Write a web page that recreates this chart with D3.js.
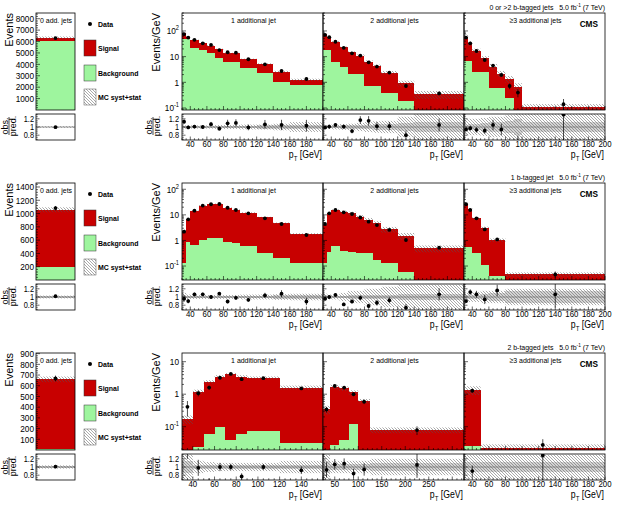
<!DOCTYPE html>
<html>
<head>
<meta charset="utf-8">
<script src="https://cdn.jsdelivr.net/npm/d3@7"></script>
<style>
  body { margin: 0; background: #fff; }
  text { font-family: "Liberation Sans", Arial, sans-serif; fill: #000; }
</style>
</head>
<body>
<div id="chart"></div>
<script>
const rowTitles = ["0 or >2 b-tagged jets", "1 b-tagged jet", "2 b-tagged jets"];
const lumiText = "5.0 fb";
const jetLabels = ["1 additional jet", "2 additional jets", "\u22653 additional jets"];
const legendLabels = ["Data", "Signal", "Background", "MC syst+stat"];

// 0 additional jets (events)
const zeroBkg = [6050, 190, 8];
const zeroTot = [6320, 1057, 660];
const zeroData = [6300, 1082, 668];
const zeroErr = [0.013, 0.03, 0.04];
const zeroRatio = [0.995, 1.02, 1.01];
const zeroUnc = [0.02, 0.035, 0.04];
const zeroStat = [0.01, 0.02, 0.02];
const zeroMax = [8500, 1460, 906];
const zeroTicks = [
    [1000, 2000, 3000, 4000, 5000, 6000, 7000, 8000],
    [200, 400, 600, 800, 1000, 1200, 1400],
    [100, 200, 300, 400, 500, 600, 700, 800, 900]
];

// axis ranges
const logDomains = [[0.0836, 500], [0.0284, 176], [0.0192, 18.5]];
const ratioDomain = [0.683, 1.317];
const xDomains = [
    [[30, 200], [30, 200], [30, 200]],
    [[30, 200], [30, 200], [30, 200]],
    [[30, 160], [25, 325], [30, 200]]
];
const ticksTo180 = [40, 60, 80, 100, 120, 140, 160, 180];
const ticksTo200 = [40, 60, 80, 100, 120, 140, 160, 180, 200];
const ticksTo140 = [40, 60, 80, 100, 120, 140];
const ticksBy50 = [50, 100, 150, 200, 250];

// row 1: 0 or >2 b-tagged jets (events/GeV)
const r1j1Edges = [30, 35, 40, 50, 60, 70, 80, 90, 100, 120, 140, 160, 200];
const r1j1Bkg = [47, 47, 21, 18, 13.5, 8.6, 6.4, 6.4, 3.5, 2.4, 1.05, 0.79];
const r1j1Tot = [81, 60, 45, 35, 27, 19.4, 13.5, 13.5, 7.9, 5.2, 2.6, 1.24];
const r1j1Data = [75, 55, 45, 33, 28.5, 18, 14.8, 14.3, 7.9, 5.0, 2.76, 1.35];
const r1j1Err = [0.05, 0.04, 0.04, 0.04, 0.05, 0.05, 0.08, 0.08, 0.07, 0.1, 0.12, 0.14];
const r1j1Ratio = [1.13, 0.99, 1.01, 1.0, 1.07, 0.96, 1.09, 1.1, 0.99, 1.065, 1.05, 1.03];
const r1j1Unc = [0.04, 0.04, 0.04, 0.04, 0.04, 0.05, 0.05, 0.05, 0.06, 0.06, 0.08, 0.12];
const r1j1Stat = [0.02, 0.02, 0.02, 0.02, 0.02, 0.03, 0.03, 0.03, 0.03, 0.04, 0.05, 0.06];

const r1j2Edges = [30, 35, 40, 50, 60, 70, 80, 90, 100, 120, 140, 200];
const r1j2Bkg = [18, 18, 6.4, 4.1, 2.2, 2.2, 0.72, 0.72, 0.37, 0.18, 0.02];
const r1j2Tot = [74, 57, 38, 23, 14.8, 11, 6.4, 4.3, 2.4, 0.92, 0.34];
const r1j2Data = [70, 57, 38, 22, 13.5, 11, 6.0, 4.1, 2.4, 0.72, 0.37];
const r1j2Err = [0.05, 0.05, 0.04, 0.05, 0.06, 0.08, 0.1, 0.1, 0.1, 0.14, 0.15];
const r1j2Ratio = [0.99, 1.01, 1.05, 1.01, 0.9, 1.17, 1.15, 1.02, 1.02, 0.8, 1.05];
const r1j2Unc = [0.05, 0.05, 0.06, 0.07, 0.08, 0.1, 0.12, 0.14, 0.15, 0.25, 0.35];
const r1j2Stat = [0.03, 0.03, 0.03, 0.04, 0.04, 0.05, 0.06, 0.07, 0.07, 0.1, 0.12];

const r1j3Edges = [30, 35, 40, 50, 60, 70, 80, 90, 100, 200];
const r1j3Bkg = [6.8, 6.8, 2.6, 2.6, 0.58, 0.58, 0.24, 0.01, 0.01];
const r1j3Tot = [60, 33, 17, 8.6, 4.1, 2.2, 1.35, 0.68, 0.105];
const r1j3Data = [55, 33, 16.6, 7.4, 4.5, 1.94, 0.72, 0.40, 0.14];
const r1j3Err = [0.05, 0.06, 0.07, 0.08, 0.12, 0.15, 0.25, 0.35, 0.6];
const r1j3Ratio = [0.94, 0.97, 0.93, 0.91, 1.05, 0.94, 0.53, 0.59, 1.3];
const r1j3Unc = [0.2, 0.2, 0.2, 0.22, 0.25, 0.25, 0.3, 0.35, 0.35];
const r1j3Stat = [0.06, 0.07, 0.08, 0.1, 0.12, 0.12, 0.15, 0.2, 0.12];

// row 2: 1 b-tagged jet
const r2j1Edges = [30, 35, 40, 50, 60, 70, 80, 90, 100, 120, 140, 160, 200];
const r2j1Bkg = [0.128, 0.89, 0.66, 1.04, 1.2, 1.2, 0.89, 0.78, 0.6, 0.33, 0.2, 0.128];
const r2j1Tot = [2.4, 6.7, 14.6, 23, 26.6, 26.6, 19, 15.5, 12, 7.9, 4.7, 1.78];
const r2j1Data = [2.2, 6.7, 14.6, 23, 26, 26.6, 19, 15.5, 11.5, 7.3, 4.4, 1.63];
const r2j1Err = [0.08, 0.06, 0.04, 0.04, 0.04, 0.04, 0.05, 0.05, 0.05, 0.06, 0.08, 0.1];
const r2j1Ratio = [0.96, 0.9, 1.065, 1.065, 1.0, 1.08, 0.89, 0.98, 0.93, 1.04, 1.08, 0.89];
const r2j1Unc = [0.1, 0.06, 0.05, 0.05, 0.05, 0.05, 0.05, 0.05, 0.06, 0.06, 0.07, 0.08];
const r2j1Stat = [0.05, 0.03, 0.02, 0.02, 0.02, 0.02, 0.02, 0.02, 0.03, 0.03, 0.04, 0.05];

const r2j2Edges = [30, 35, 40, 50, 60, 70, 80, 90, 100, 120, 140, 200];
const r2j2Bkg = [0.128, 0.36, 0.6, 0.4, 0.36, 0.33, 0.33, 0.17, 0.128, 0.06, 0.01];
const r2j2Tot = [4.0, 11.5, 15.5, 13.3, 11.5, 8.5, 6.3, 4.7, 2.7, 1.5, 0.49];
const r2j2Data = [4.4, 11.5, 15.5, 12.6, 10.8, 7.9, 5.4, 4.0, 2.57, 1.04, 0.52];
const r2j2Err = [0.06, 0.04, 0.04, 0.05, 0.05, 0.06, 0.07, 0.08, 0.08, 0.12, 0.14];
const r2j2Ratio = [0.96, 1.0, 1.05, 0.82, 0.89, 0.98, 0.78, 0.86, 0.92, 0.74, 1.065];
const r2j2Unc = [0.08, 0.06, 0.06, 0.1, 0.15, 0.15, 0.2, 0.2, 0.25, 0.3, 0.3];
const r2j2Stat = [0.04, 0.03, 0.03, 0.03, 0.04, 0.04, 0.05, 0.05, 0.06, 0.07, 0.08];

const r2j3Edges = [30, 35, 40, 50, 60, 80, 200];
const r2j3Bkg = [0.57, 0.57, 0.32, 0.11, 0.04, 0.001];
const r2j3Tot = [26, 16.5, 7.3, 3.0, 1.04, 0.047];
const r2j3Data = [26, 15.5, 7.3, 2.7, 1.1, 0.047];
const r2j3Err = [0.05, 0.06, 0.08, 0.12, 0.12, 0.3];
const r2j3Ratio = [0.9, 1.12, 1.065, 0.94, 1.16, 1.065];
const r2j3Unc = [0.1, 0.12, 0.12, 0.15, 0.15, 0.2];
const r2j3Stat = [0.05, 0.06, 0.06, 0.08, 0.1, 0.15];

// row 3: 2 b-tagged jets
const r3j1Edges = [30, 40, 50, 60, 70, 80, 90, 120, 160];
const r3j1Bkg = [0.005, 0.023, 0.059, 0.1, 0.039, 0.059, 0.076, 0.032];
const r3j1Tot = [0.17, 1.2, 2.4, 3.5, 4.1, 3.5, 3.2, 1.6];
const r3j1Data = [0.41, 1.07, 1.6, 3.2, 4.2, 2.9, 3.1, 1.5];
const r3j1Err = [0.5, 0.2, 0.15, 0.1, 0.08, 0.1, 0.07, 0.1];
const r3j1Ratio = [2.4, 0.98, 0.63, 1.0, 1.0, 0.77, 1.0, 0.92];
const r3j1Unc = [0.3, 0.15, 0.12, 0.1, 0.1, 0.1, 0.1, 0.15];
const r3j1Stat = [0.15, 0.06, 0.05, 0.04, 0.04, 0.04, 0.04, 0.06];

const r3j2Edges = [25, 40, 60, 80, 100, 125, 325];
const r3j2Bkg = [0.003, 0.027, 0.039, 0.117, 0.003, 0.003];
const r3j2Tot = [0.34, 1.7, 1.5, 1.14, 0.62, 0.079];
const r3j2Data = [0.34, 1.8, 1.6, 1.0, 0.59, 0.079];
const r3j2Err = [0.2, 0.12, 0.12, 0.14, 0.16, 0.3];
const r3j2Ratio = [0.93, 1.065, 1.08, 0.84, 0.94, 1.05];
const r3j2Unc = [0.3, 0.15, 0.15, 0.15, 0.15, 0.2];
const r3j2Stat = [0.15, 0.08, 0.08, 0.08, 0.08, 0.1];

const r3j3Edges = [30, 50, 200];
const r3j3Bkg = [0.025, 0.001];
const r3j3Tot = [1.35, 0.022];
const r3j3Data = [1.28, 0.0275];
const r3j3Err = [0.15, 0.5];
const r3j3Ratio = [0.9, 1.28];
const r3j3Unc = [0.3, 0.3];
const r3j3Stat = [0.12, 0.12];

const rightPanels = [
    [
        { edges: r1j1Edges, bkg: r1j1Bkg, tot: r1j1Tot, data: r1j1Data, err: r1j1Err, ratio: r1j1Ratio, unc: r1j1Unc, stat: r1j1Stat, ticks: ticksTo180, minor: 5 },
        { edges: r1j2Edges, bkg: r1j2Bkg, tot: r1j2Tot, data: r1j2Data, err: r1j2Err, ratio: r1j2Ratio, unc: r1j2Unc, stat: r1j2Stat, ticks: ticksTo180, minor: 5 },
        { edges: r1j3Edges, bkg: r1j3Bkg, tot: r1j3Tot, data: r1j3Data, err: r1j3Err, ratio: r1j3Ratio, unc: r1j3Unc, stat: r1j3Stat, ticks: ticksTo200, minor: 5 }
    ],
    [
        { edges: r2j1Edges, bkg: r2j1Bkg, tot: r2j1Tot, data: r2j1Data, err: r2j1Err, ratio: r2j1Ratio, unc: r2j1Unc, stat: r2j1Stat, ticks: ticksTo180, minor: 5 },
        { edges: r2j2Edges, bkg: r2j2Bkg, tot: r2j2Tot, data: r2j2Data, err: r2j2Err, ratio: r2j2Ratio, unc: r2j2Unc, stat: r2j2Stat, ticks: ticksTo180, minor: 5 },
        { edges: r2j3Edges, bkg: r2j3Bkg, tot: r2j3Tot, data: r2j3Data, err: r2j3Err, ratio: r2j3Ratio, unc: r2j3Unc, stat: r2j3Stat, ticks: ticksTo200, minor: 5 }
    ],
    [
        { edges: r3j1Edges, bkg: r3j1Bkg, tot: r3j1Tot, data: r3j1Data, err: r3j1Err, ratio: r3j1Ratio, unc: r3j1Unc, stat: r3j1Stat, ticks: ticksTo140, minor: 5 },
        { edges: r3j2Edges, bkg: r3j2Bkg, tot: r3j2Tot, data: r3j2Data, err: r3j2Err, ratio: r3j2Ratio, unc: r3j2Unc, stat: r3j2Stat, ticks: ticksBy50, minor: 10 },
        { edges: r3j3Edges, bkg: r3j3Bkg, tot: r3j3Tot, data: r3j3Data, err: r3j3Err, ratio: r3j3Ratio, unc: r3j3Unc, stat: r3j3Stat, ticks: ticksTo200, minor: 5 }
    ]
];

const RED = "#c80000";
const GREEN = "#9ef59e";
const PW = 141, MH = 97, RH = 26, RGAP = 101;
const panelX = [182, 323, 464];
const leftX = [36, 75];
const sx = 0.87;
const rowTop = r => 13 + 170 * r;

const svg = d3.select("#chart")
    .append("svg")
    .attr("width", 618)
    .attr("height", 506);

const defs = svg.append("defs");
defs.append("pattern")
    .attr("id", "hatch")
    .attr("patternUnits", "userSpaceOnUse")
    .attr("width", 3)
    .attr("height", 3)
    .append("path")
    .attr("d", "M-1,-1 L4,4 M-1,2 L1,4 M2,-1 L4,1")
    .attr("stroke", "#555")
    .attr("stroke-width", 0.5);

function label(g, x, y, s, size, anchor = "start", weight = "normal") {
    return g.append("text")
        .attr("transform", `translate(${x},${y}) scale(${sx},1)`)
        .attr("text-anchor", anchor)
        .style("font-size", size + "px")
        .style("font-weight", weight)
        .text(s);
}

function vlabel(x, y, s, size) {
    svg.append("text")
        .attr("transform", `translate(${x},${y}) rotate(-90)`)
        .attr("text-anchor", "end")
        .style("font-size", size + "px")
        .text(s);
}

function fracLabel(x, y, size) {
    const g = svg.append("g")
        .attr("transform", `translate(${x},${y}) rotate(-90)`)
        .style("font-size", size + "px");
    g.append("text").attr("y", -1.5).attr("text-anchor", "middle").text("obs.");
    g.append("line").attr("x1", -9).attr("x2", 9).attr("stroke", "black").attr("stroke-width", 0.7);
    g.append("text").attr("y", size * 0.82).attr("text-anchor", "middle").text("pred.");
}

function bins(p) {
    return p.tot.map((t, k) => ({
        a: p.edges[k], b: p.edges[k + 1], c: (p.edges[k] + p.edges[k + 1]) / 2,
        bkg: p.bkg[k], tot: t, data: p.data[k], err: p.err[k],
        ratio: p.ratio[k], unc: p.unc[k], stat: p.stat[k]
    }));
}

function mainPanel(id, x0, w, top, xs, ys, p) {
    const yb = top + MH;
    const yv = v => Math.min(ys(Math.max(v, 1e-6)), yb + 2);
    defs.append("clipPath").attr("id", id)
        .append("rect").attr("x", x0).attr("y", top).attr("width", w).attr("height", MH);
    const g = svg.append("g").attr("clip-path", `url(#${id})`);
    const b = bins(p);

    g.selectAll(".bkg").data(b).join("rect").attr("class", "bkg")
        .attr("x", d => xs(d.a)).attr("width", d => xs(d.b) - xs(d.a))
        .attr("y", d => yv(d.bkg)).attr("height", d => yb + 2 - yv(d.bkg))
        .attr("fill", GREEN).attr("shape-rendering", "crispEdges");
    g.selectAll(".sig").data(b).join("rect").attr("class", "sig")
        .attr("x", d => xs(d.a)).attr("width", d => xs(d.b) - xs(d.a))
        .attr("y", d => yv(d.tot)).attr("height", d => Math.max(0, yv(d.bkg) - yv(d.tot)))
        .attr("fill", RED).attr("shape-rendering", "crispEdges");
    g.selectAll(".unc").data(b).join("rect").attr("class", "unc")
        .attr("x", d => xs(d.a)).attr("width", d => xs(d.b) - xs(d.a))
        .attr("y", d => yv(d.tot * (1 + d.unc)))
        .attr("height", d => yv(d.tot * (1 - d.unc)) - yv(d.tot * (1 + d.unc)))
        .attr("fill", "url(#hatch)");

    g.selectAll(".ebar").data(b).join("line").attr("class", "ebar")
        .attr("x1", d => xs(d.c)).attr("x2", d => xs(d.c))
        .attr("y1", d => yv(d.data * (1 + d.err))).attr("y2", d => yv(d.data * (1 - d.err)))
        .attr("stroke", "black").attr("stroke-width", 0.7);
    g.selectAll(".dot").data(b).join("circle").attr("class", "dot")
        .attr("cx", d => xs(d.c)).attr("cy", d => yv(d.data)).attr("r", 1.9)
        .attr("fill", "black");

    svg.append("rect").attr("x", x0).attr("y", top).attr("width", w).attr("height", MH)
        .attr("fill", "none").attr("stroke", "black").attr("stroke-width", 0.8);
}

function ratioPanel(id, x0, w, top, xs, rs, p) {
    defs.append("clipPath").attr("id", id)
        .append("rect").attr("x", x0).attr("y", top).attr("width", w).attr("height", RH);
    const g = svg.append("g").attr("clip-path", `url(#${id})`);
    const b = bins(p);

    g.selectAll(".stat").data(b).join("rect").attr("class", "stat")
        .attr("x", d => xs(d.a)).attr("width", d => xs(d.b) - xs(d.a))
        .attr("y", d => rs(1 + d.stat)).attr("height", d => rs(1 - d.stat) - rs(1 + d.stat))
        .attr("fill", "#d4d4d4").attr("shape-rendering", "crispEdges");
    g.selectAll(".unc").data(b).join("rect").attr("class", "unc")
        .attr("x", d => xs(d.a)).attr("width", d => xs(d.b) - xs(d.a))
        .attr("y", d => rs(1 + d.unc)).attr("height", d => rs(1 - d.unc) - rs(1 + d.unc))
        .attr("fill", "url(#hatch)");
    g.append("line").attr("x1", x0).attr("x2", x0 + w).attr("y1", rs(1)).attr("y2", rs(1))
        .attr("stroke", "#777").attr("stroke-width", 0.8);

    g.selectAll(".ebar").data(b).join("line").attr("class", "ebar")
        .attr("x1", d => xs(d.c)).attr("x2", d => xs(d.c))
        .attr("y1", d => rs(d.ratio * (1 + d.err))).attr("y2", d => rs(d.ratio * (1 - d.err)))
        .attr("stroke", "black").attr("stroke-width", 0.7);
    g.selectAll(".dot").data(b).join("circle").attr("class", "dot")
        .attr("cx", d => xs(d.c)).attr("cy", d => rs(d.ratio)).attr("r", 1.9)
        .attr("fill", "black");

    svg.append("rect").attr("x", x0).attr("y", top).attr("width", w).attr("height", RH)
        .attr("fill", "none").attr("stroke", "black").attr("stroke-width", 0.8);
}

function tick(x1, y1, x2, y2) {
    svg.append("line").attr("x1", x1).attr("y1", y1).attr("x2", x2).attr("y2", y2)
        .attr("stroke", "black").attr("stroke-width", 0.6);
}

function logTicks(x0, ys, withLabels) {
    const [lo, hi] = ys.domain();
    for (let e = Math.floor(Math.log10(lo)); e <= Math.ceil(Math.log10(hi)); e++) {
        for (let m = 1; m < 10; m++) {
            const v = m * Math.pow(10, e);
            if (v < lo || v > hi) continue;
            tick(x0, ys(v), x0 + (m === 1 ? 4 : 2), ys(v));
            if (m === 1 && withLabels) {
                const t = svg.append("text")
                    .attr("transform", `translate(${x0 - 3},${ys(v) + 3.3}) scale(${sx},1)`)
                    .attr("text-anchor", "end")
                    .style("font-size", "9.5px");
                if (e === 0) t.text("1");
                else if (e === 1) t.text("10");
                else {
                    t.append("tspan").text("10");
                    t.append("tspan").attr("dy", -4).style("font-size", "6.5px").text(e === -1 ? "-1" : e);
                }
            }
        }
    }
}

function ratioTicks(x0, rs, withLabels, lx) {
    d3.range(0.7, 1.31, 0.05).forEach(v => {
        const major = Math.abs(v - 0.8) < 1e-6 || Math.abs(v - 1) < 1e-6 || Math.abs(v - 1.2) < 1e-6;
        tick(x0, rs(v), x0 + (major ? 3.5 : 1.8), rs(v));
    });
    if (withLabels) {
        [[1.2, "1.2"], [1, "1"], [0.8, "0.8"]].forEach(([v, s]) => {
            label(svg, lx, rs(v) + 3, s, 8.5, "end");
        });
    }
}

function xTicks(xs, yb, len, p) {
    const [a, b] = xs.domain();
    for (let v = Math.ceil(a / p.minor) * p.minor; v <= b; v += p.minor) {
        const major = p.ticks.includes(v) || v % (p.minor === 10 ? 50 : 20) === 0;
        tick(xs(v), yb, xs(v), yb - (major ? len : len / 2));
    }
}

rowTitles.forEach((title, r) => {
    const T = rowTop(r);
    const ys = d3.scaleLog().domain(logDomains[r]).range([T + MH, T]);
    const rs = d3.scaleLinear().domain(ratioDomain).range([T + RGAP + RH, T + RGAP]);

    // 0 additional jets
    const zs = d3.scaleLinear().domain([0, zeroMax[r]]).range([T + MH, T]);
    const zx = d3.scaleLinear().domain([0, 1]).range(leftX);
    const zp = {
        edges: [0, 1], bkg: [zeroBkg[r]], tot: [zeroTot[r]], data: [zeroData[r]], err: [zeroErr[r]],
        ratio: [zeroRatio[r]], unc: [zeroUnc[r]], stat: [zeroStat[r]]
    };
    mainPanel(`z${r}`, leftX[0], leftX[1] - leftX[0], T, zx, zs, zp);
    ratioPanel(`zr${r}`, leftX[0], leftX[1] - leftX[0], T + RGAP, zx, rs, zp);
    const step = zeroTicks[r][1] - zeroTicks[r][0];
    d3.range(step / 5, zeroMax[r], step / 5).forEach(v => {
        const major = zeroTicks[r].some(t => Math.abs(t - v) < 1e-6);
        tick(leftX[0], zs(v), leftX[0] + (major ? 4 : 2), zs(v));
    });
    zeroTicks[r].forEach(v => label(svg, leftX[0] - 2, zs(v) + 3.3, v, 9.5, "end"));
    ratioTicks(leftX[0], rs, true, leftX[0] - 2);
    label(svg, 56, T + 10, "0 add. jets", 8, "middle");
    vlabel(13, T, "Events", 11);
    fracLabel(9, T + 113, 9);

    // legend
    svg.append("circle").attr("cx", 90).attr("cy", T + 11).attr("r", 2).attr("fill", "black");
    svg.append("rect").attr("x", 84).attr("y", T + 27).attr("width", 12).attr("height", 16)
        .attr("fill", RED).attr("stroke", "#333").attr("stroke-width", 0.5);
    svg.append("rect").attr("x", 84).attr("y", T + 52).attr("width", 12).attr("height", 16)
        .attr("fill", GREEN).attr("stroke", "#333").attr("stroke-width", 0.5);
    svg.append("rect").attr("x", 84).attr("y", T + 76).attr("width", 12).attr("height", 16)
        .attr("fill", "url(#hatch)").attr("stroke", "#555").attr("stroke-width", 0.5);
    [14, 38, 63, 87].forEach((dy, k) => label(svg, 98, T + dy, legendLabels[k], 8, "start", "bold"));

    // jet multiplicity panels
    panelX.forEach((x0, j) => {
        const p = rightPanels[r][j];
        const xs = d3.scaleLinear().domain(xDomains[r][j]).range([x0, x0 + PW]);
        mainPanel(`m${r}${j}`, x0, PW, T, xs, ys, p);
        ratioPanel(`r${r}${j}`, x0, PW, T + RGAP, xs, rs, p);
        logTicks(x0, ys, j === 0);
        ratioTicks(x0, rs, j === 0, x0 - 3);
        xTicks(xs, T + MH, 4, p);
        xTicks(xs, T + RGAP + RH, 3.5, p);
        p.ticks.forEach(v => label(svg, xs(v), T + 134, v, 9, "middle"));

        const pt = svg.append("text")
            .attr("transform", `translate(${x0 + PW - 1},${T + 145}) scale(${sx},1)`)
            .attr("text-anchor", "end")
            .style("font-size", "10px");
        pt.append("tspan").text("p");
        pt.append("tspan").attr("dy", 2.5).style("font-size", "7px").text("T");
        pt.append("tspan").attr("dy", -2.5).text(" [GeV]");

        label(svg, x0 + PW / 2 + 1, T + 10, jetLabels[j], 8, "middle");
    });

    vlabel(160, T, "Events/GeV", 11);
    fracLabel(153, T + 113, 9);

    const tt = svg.append("text")
        .attr("transform", `translate(605,${T - 3}) scale(${sx},1)`)
        .attr("text-anchor", "end")
        .style("font-size", "8px");
    tt.append("tspan").text(title + "\u00a0\u00a0\u00a0" + lumiText);
    tt.append("tspan").attr("dy", -3).style("font-size", "5.5px").text("-1");
    tt.append("tspan").attr("dy", 3).text(" (7 TeV)");

    label(svg, 598, T + 14, "CMS", 9.5, "end", "bold");
});
</script>
</body>
</html>
